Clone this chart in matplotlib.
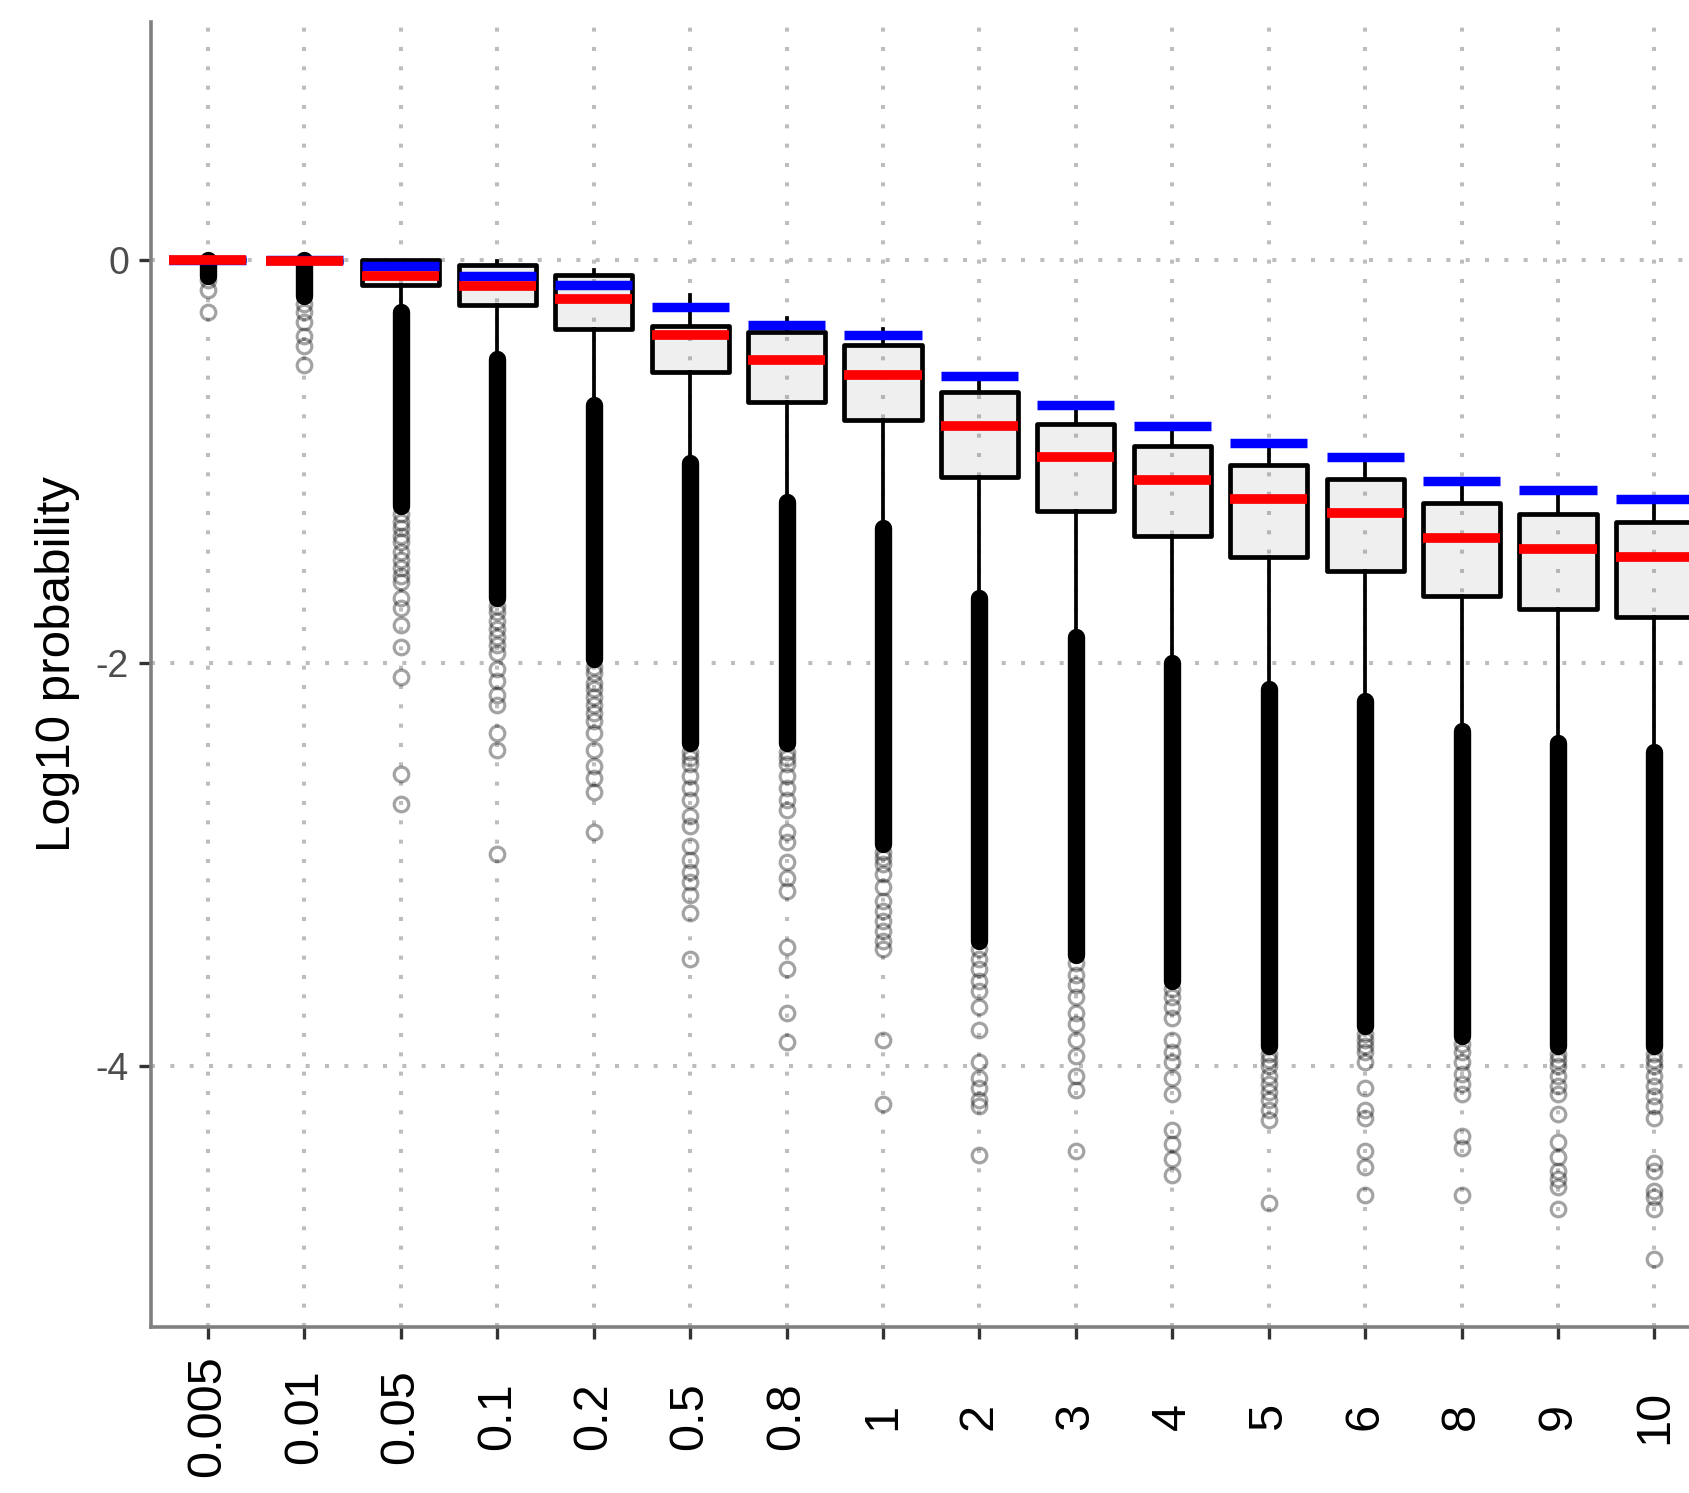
import numpy as np
import matplotlib as mpl
mpl.use('Agg')
import matplotlib.pyplot as plt

plt.rcParams['font.family'] = ['Liberation Sans', 'DejaVu Sans']

# box statistics per sampling level (log10 probability)
labels = ['0.005', '0.01', '0.05', '0.1', '0.2', '0.5', '0.8', '1',
          '2', '3', '4', '5', '6', '8', '9', '10']
q3 = [0.0, -0.005, 0.0, -0.026, -0.075, -0.326, -0.358, -0.422,
      -0.658, -0.813, -0.925, -1.016, -1.086, -1.209, -1.262, -1.300]
med = [0.0, -0.005, -0.08, -0.13, -0.193, -0.374, -0.497, -0.572,
       -0.824, -0.979, -1.091, -1.187, -1.257, -1.380, -1.433, -1.476]
q1 = [0.0, -0.005, -0.126, -0.224, -0.342, -0.556, -0.706, -0.797,
      -1.080, -1.246, -1.369, -1.476, -1.545, -1.668, -1.733, -1.770]
whishi = [0.0, -0.005, 0.0, -0.005, -0.048, -0.176, -0.289, -0.342,
          -0.594, -0.74, -0.85, -0.93, -1.0, -1.12, -1.17, -1.21]
whislo = [0.0, -0.005, -0.24, -0.47, -0.70, -1.0, -1.18, -1.32,
          -1.66, -1.85, -1.98, -2.12, -2.17, -2.32, -2.38, -2.42]
# expected value for each level
expected = [0.0, 0.0, -0.03, -0.08, -0.123, -0.235, -0.321, -0.374,
            -0.578, -0.722, -0.824, -0.909, -0.979, -1.096, -1.144, -1.187]

# span where outliers pile up into a solid column
dense_top = [0.0, 0.0, -0.26, -0.49, -0.72, -1.01, -1.2, -1.33,
             -1.68, -1.87, -2.0, -2.13, -2.19, -2.34, -2.40, -2.44]
dense_bottom = [-0.08, -0.18, -1.22, -1.68, -1.98, -2.4, -2.4, -2.9,
                -3.38, -3.45, -3.58, -3.9, -3.8, -3.85, -3.9, -3.9]

# individual outliers below the solid column
outliers = [
    [-0.1, -0.15, -0.26],
    [-0.22, -0.26, -0.31, -0.38, -0.43, -0.52],
    [-1.26, -1.3, -1.33, -1.37, -1.4, -1.45, -1.49, -1.53, -1.57, -1.6,
     -1.68, -1.73, -1.81, -1.92, -2.07, -2.55, -2.7],
    [-1.72, -1.75, -1.79, -1.83, -1.87, -1.91, -1.95, -2.03, -2.09, -2.16,
     -2.21, -2.35, -2.43, -2.95],
    [-2.02, -2.05, -2.1, -2.13, -2.17, -2.21, -2.25, -2.29, -2.35, -2.43,
     -2.51, -2.57, -2.64, -2.84],
    [-2.44, -2.47, -2.5, -2.56, -2.62, -2.68, -2.76, -2.81, -2.91, -2.98,
     -3.04, -3.09, -3.15, -3.24, -3.47],
    [-2.44, -2.47, -2.5, -2.56, -2.62, -2.68, -2.73, -2.84, -2.89, -2.99,
     -3.07, -3.13, -3.41, -3.52, -3.74, -3.88],
    [-2.94, -2.97, -3.0, -3.05, -3.11, -3.18, -3.23, -3.28, -3.33, -3.38,
     -3.42, -3.87, -4.19],
    [-3.42, -3.47, -3.52, -3.58, -3.63, -3.71, -3.82, -3.98, -4.06, -4.11,
     -4.17, -4.2, -4.44],
    [-3.49, -3.55, -3.6, -3.66, -3.74, -3.79, -3.87, -3.95, -4.05, -4.12,
     -4.42],
    [-3.62, -3.66, -3.71, -3.76, -3.87, -3.93, -3.98, -4.06, -4.14, -4.32,
     -4.39, -4.46, -4.54],
    [-3.94, -3.97, -4.0, -4.05, -4.09, -4.13, -4.17, -4.22, -4.27, -4.68],
    [-3.84, -3.87, -3.9, -3.93, -3.98, -4.11, -4.22, -4.26, -4.42, -4.5,
     -4.64],
    [-3.89, -3.93, -3.98, -4.04, -4.09, -4.14, -4.35, -4.41, -4.64],
    [-3.94, -3.97, -4.0, -4.05, -4.1, -4.14, -4.24, -4.38, -4.45, -4.52,
     -4.56, -4.6, -4.71],
    [-3.94, -3.97, -4.0, -4.05, -4.1, -4.15, -4.2, -4.26, -4.48, -4.52,
     -4.62, -4.65, -4.71, -4.96],
]

pos = np.arange(1, len(labels) + 1)
stats = [dict(label=l, q1=a, med=m, q3=b, whislo=lo, whishi=hi, fliers=np.array(f))
         for l, a, m, b, lo, hi, f in zip(labels, q1, med, q3, whislo, whishi, outliers)]

fig = plt.figure(figsize=(16.9, 14.93), dpi=100)
ax = fig.add_axes([0.0893, 0.1113, 1 - 0.0893, 0.8742])

ax.grid(True, color='#bdbdbd', linestyle=(0, (1, 3.8)), linewidth=2.9)
ax.set_axisbelow(True)

ax.bxp(stats, positions=pos, widths=0.8, patch_artist=True, showcaps=False,
       manage_ticks=False,
       boxprops=dict(facecolor=(0.5, 0.5, 0.5, 0.12), edgecolor='black',
                     linewidth=3.4, joinstyle='round'),
       whiskerprops=dict(color='black', linewidth=2.7),
       medianprops=dict(color='red', linewidth=7.0, solid_capstyle='butt', zorder=4),
       flierprops=dict(marker='o', markersize=10.5, markerfacecolor='none',
                       markeredgecolor=(0, 0, 0, 0.36), markeredgewidth=2.3,
                       linestyle='none'))

ax.vlines(pos, dense_bottom, dense_top, color='black', linewidth=12.5,
          capstyle='round', zorder=2)
ax.hlines(expected, pos - 0.4, pos + 0.4, color='#0000ff', linewidth=6.8, zorder=3)

ax.set_xlim(0.409, 16.369)
ax.set_ylim(-5.295, 1.182)

ax.set_xticks(pos)
ax.set_xticklabels(labels, rotation=90, fontsize=35, va='center', ha='center')
ax.set_yticks([0, -2, -4])
ax.set_yticklabels(['0', '-2', '-4'])
ax.tick_params(axis='x', length=8.6, width=2.4, color='#333333', pad=56)
ax.tick_params(axis='y', length=8.6, width=2.4, color='#333333', pad=7.2,
               labelsize=27, labelcolor='#4d4d4d')

for side in ['top', 'right']:
    ax.spines[side].set_visible(False)
for side in ['left', 'bottom']:
    ax.spines[side].set_color('#808080')
    ax.spines[side].set_linewidth(2.6)

ax.set_ylabel('Log10 probability', fontsize=35.5)
ax.yaxis.label.set_va('center')
ax.yaxis.set_label_coords(-0.0606, 0.508)

fig.savefig('out.png', dpi=100)
